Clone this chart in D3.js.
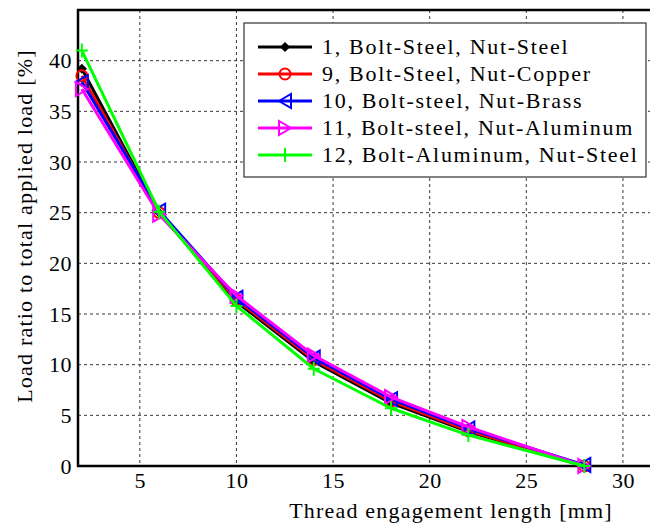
<!DOCTYPE html>
<html lang="en">
<head>
    <meta charset="UTF-8">
    <title>Load ratio vs thread engagement length</title>
    <script src="https://cdn.jsdelivr.net/npm/d3@7"></script>
    <style>
        body { margin: 0; background: #fff; }
        svg { display: block; }
        text { font-family: "Liberation Serif", "Times New Roman", serif; font-size: 22px; fill: #000; letter-spacing: 1.2px; }
        .tick text { letter-spacing: 0.5px; }
        .legend text { letter-spacing: 1.7px; }
    </style>
</head>
<body>
    <svg width="650" height="524"></svg>
    <script>
        // data
        var xs = [2, 6, 10, 14, 18, 22, 28];
        var s1 = [39.2, 25.0, 16.2, 10.3, 6.2, 3.4, 0];
        var s9 = [38.5, 25.0, 16.4, 10.5, 6.4, 3.5, 0];
        var s10 = [37.9, 25.2, 16.6, 10.7, 6.6, 3.7, 0.1];
        var s11 = [37.2, 24.8, 16.8, 10.9, 6.8, 3.85, 0];
        var s12 = [41.0, 25.1, 15.8, 9.6, 5.7, 3.05, 0];
        var seriesNames = ["1, Bolt-Steel, Nut-Steel", "9, Bolt-Steel, Nut-Copper",
            "10, Bolt-steel, Nut-Brass", "11, Bolt-steel, Nut-Aluminum", "12, Bolt-Aluminum, Nut-Steel"];
        var xTicks = [5, 10, 15, 20, 25, 30];
        var yTicks = [0, 5, 10, 15, 20, 25, 30, 35, 40];

        (function () {
            var series = [
                { name: seriesNames[0], values: s1, color: "#000", marker: "diamond" },
                { name: seriesNames[1], values: s9, color: "#f00", marker: "circle" },
                { name: seriesNames[2], values: s10, color: "#00f", marker: "left" },
                { name: seriesNames[3], values: s11, color: "#f0f", marker: "right" },
                { name: seriesNames[4], values: s12, color: "#0f0", marker: "plus" }
            ];

            // plot box
            var pLeft = 78, pTop = 10, pBottom = 466, pRight = 650;
            var x = d3.scaleLinear().domain([1.8, 31.4]).range([pLeft, pRight]);
            var y = d3.scaleLinear().domain([0, 45]).range([pBottom, pTop]);

            var svg = d3.select("svg");

            // grid
            var grid = svg.append("g").attr("stroke", "#222").attr("stroke-width", 0.9)
                .attr("stroke-dasharray", "3,3");
            grid.selectAll("line.gx").data(xTicks).enter().append("line")
                .attr("x1", function (d) { return x(d); }).attr("x2", function (d) { return x(d); })
                .attr("y1", pTop).attr("y2", pBottom);
            grid.selectAll("line.gy").data(yTicks.slice(1)).enter().append("line")
                .attr("x1", pLeft).attr("x2", pRight)
                .attr("y1", function (d) { return y(d); }).attr("y2", function (d) { return y(d); });

            // axes, labels only
            var xAxis = svg.append("g").attr("transform", "translate(0," + pBottom + ")")
                .call(d3.axisBottom(x).tickValues(xTicks).tickSize(0).tickPadding(6));
            xAxis.select(".domain").remove();
            var yAxis = svg.append("g").attr("transform", "translate(" + pLeft + ",0)")
                .call(d3.axisLeft(y).tickValues(yTicks).tickSize(0).tickPadding(6));
            yAxis.select(".domain").remove();
            svg.selectAll(".tick text").attr("font-family", null).attr("font-size", null);

            // frame
            svg.append("path")
                .attr("d", "M" + pRight + "," + pTop + "H" + pLeft + "V" + pBottom + "H" + pRight)
                .attr("fill", "none").attr("stroke", "#000").attr("stroke-width", 2.5);

            var line = d3.line()
                .x(function (d, i) { return x(xs[i]); })
                .y(function (d) { return y(d); });

            function drawMarker(g, type, color) {
                if (type === "diamond") {
                    g.append("path").attr("d", "M0,-4L4,0L0,4L-4,0Z").attr("fill", color).attr("stroke", color).attr("stroke-width", 1.5);
                } else if (type === "circle") {
                    g.append("circle").attr("r", 5.5).attr("fill", "none").attr("stroke", color).attr("stroke-width", 2);
                } else if (type === "left") {
                    g.append("path").attr("d", "M-6,0L6,-7L6,7Z").attr("fill", "none").attr("stroke", color).attr("stroke-width", 2);
                } else if (type === "right") {
                    g.append("path").attr("d", "M6,0L-6,-7L-6,7Z").attr("fill", "none").attr("stroke", color).attr("stroke-width", 2);
                } else if (type === "plus") {
                    g.append("path").attr("d", "M-6,0H6M0,-7V7").attr("fill", "none").attr("stroke", color).attr("stroke-width", 2);
                }
            }

            series.forEach(function (s) {
                svg.append("path").datum(s.values)
                    .attr("d", line)
                    .attr("fill", "none").attr("stroke", s.color).attr("stroke-width", 3)
                    .attr("stroke-linejoin", "round");
                s.values.forEach(function (v, i) {
                    var g = svg.append("g").attr("transform", "translate(" + x(xs[i]) + "," + y(v) + ")");
                    drawMarker(g, s.marker, s.color);
                });
            });

            // legend
            var lg = svg.append("g").attr("class", "legend");
            lg.append("rect").attr("x", 244).attr("y", 23).attr("width", 402).attr("height", 154)
                .attr("fill", "#fff").attr("stroke", "#333").attr("stroke-width", 1.2);
            series.forEach(function (s, i) {
                var cy = 47 + i * 27;
                lg.append("line").attr("x1", 258).attr("x2", 312).attr("y1", cy).attr("y2", cy)
                    .attr("stroke", s.color).attr("stroke-width", 3);
                drawMarker(lg.append("g").attr("transform", "translate(285," + cy + ")"), s.marker, s.color);
                lg.append("text").attr("x", 322).attr("y", cy + 7).text(s.name);
            });

            // axis titles
            svg.append("text").attr("x", 451).attr("y", 518).attr("text-anchor", "middle")
                .text("Thread engagement length [mm]");
            svg.append("text").attr("transform", "translate(32,226) rotate(-90)").attr("text-anchor", "middle")
                .text("Load ratio to total applied load [%]");
        })();
    </script>
</body>
</html>
